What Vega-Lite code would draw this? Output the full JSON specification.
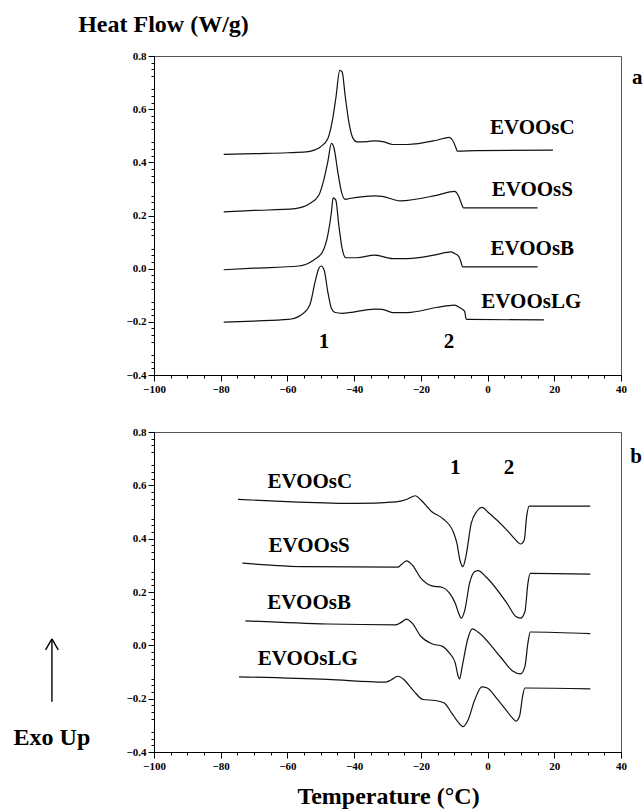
{
  "$schema": "https://vega.github.io/schema/vega-lite/v6.json",
  "background": "white",
  "padding": {"left": 13, "top": 11, "right": 0, "bottom": 0},
  "spacing": 57,
  "bounds": "flush",
  "config": {
    "view": {"stroke": "#555", "strokeWidth": 1},
    "font": "'Liberation Serif', 'Times New Roman', 'DejaVu Serif', serif",
    "axis": {
      "labelFont": "'Liberation Serif', 'Times New Roman', 'DejaVu Serif', serif", "labelFontSize": 11, "labelFontWeight": "bold", "labelColor": "#000",
      "domainColor": "#000", "tickColor": "#000", "tickSize": 6, "grid": false,
      "labelFlush": false, "labelOverlap": false, "labelPadding": 2,
      "titleFont": "'Liberation Serif', 'Times New Roman', 'DejaVu Serif', serif", "titleFontSize": 24, "titleFontWeight": "bold", "titleColor": "#000"
    }
  },
  "datasets": {
    "a": [
      {"s": "C", "t": -79.1, "h": 0.430}, {"s": "C", "t": -70, "h": 0.433}, {"s": "C", "t": -60, "h": 0.436},
      {"s": "C", "t": -54.4, "h": 0.439}, {"s": "C", "t": -52, "h": 0.446}, {"s": "C", "t": -50.1, "h": 0.458},
      {"s": "C", "t": -47.9, "h": 0.489}, {"s": "C", "t": -46.6, "h": 0.552}, {"s": "C", "t": -45.5, "h": 0.640},
      {"s": "C", "t": -44.3, "h": 0.746}, {"s": "C", "t": -43.6, "h": 0.740}, {"s": "C", "t": -42.7, "h": 0.652},
      {"s": "C", "t": -41.6, "h": 0.552}, {"s": "C", "t": -40.3, "h": 0.489}, {"s": "C", "t": -39.2, "h": 0.477},
      {"s": "C", "t": -36, "h": 0.478}, {"s": "C", "t": -33.8, "h": 0.481}, {"s": "C", "t": -31, "h": 0.477},
      {"s": "C", "t": -28.4, "h": 0.467}, {"s": "C", "t": -24.0, "h": 0.467}, {"s": "C", "t": -15.3, "h": 0.483},
      {"s": "C", "t": -11.5, "h": 0.494}, {"s": "C", "t": -10.5, "h": 0.483}, {"s": "C", "t": -9.4, "h": 0.452},
      {"s": "C", "t": -9.1, "h": 0.442}, {"s": "C", "t": -3.4, "h": 0.444}, {"s": "C", "t": 19.6, "h": 0.446},

      {"s": "S", "t": -79.1, "h": 0.214}, {"s": "S", "t": -70, "h": 0.219}, {"s": "S", "t": -57.7, "h": 0.226},
      {"s": "S", "t": -53.3, "h": 0.245}, {"s": "S", "t": -50.6, "h": 0.276}, {"s": "S", "t": -49.0, "h": 0.339},
      {"s": "S", "t": -47.9, "h": 0.402}, {"s": "S", "t": -46.8, "h": 0.471}, {"s": "S", "t": -46.0, "h": 0.452},
      {"s": "S", "t": -44.9, "h": 0.364}, {"s": "S", "t": -43.8, "h": 0.289}, {"s": "S", "t": -42.7, "h": 0.261},
      {"s": "S", "t": -41.4, "h": 0.264}, {"s": "S", "t": -33.8, "h": 0.274}, {"s": "S", "t": -31.6, "h": 0.272},
      {"s": "S", "t": -26.2, "h": 0.255}, {"s": "S", "t": -15.3, "h": 0.276}, {"s": "S", "t": -9.9, "h": 0.291},
      {"s": "S", "t": -8.8, "h": 0.276}, {"s": "S", "t": -8.0, "h": 0.251}, {"s": "S", "t": -7.2, "h": 0.229},
      {"s": "S", "t": 15.0, "h": 0.229},

      {"s": "B", "t": -79.1, "h": -0.004}, {"s": "B", "t": -70, "h": 0.002}, {"s": "B", "t": -56.6, "h": 0.010},
      {"s": "B", "t": -52.2, "h": 0.032}, {"s": "B", "t": -49.5, "h": 0.063}, {"s": "B", "t": -47.9, "h": 0.126},
      {"s": "B", "t": -46.8, "h": 0.214}, {"s": "B", "t": -46.3, "h": 0.266}, {"s": "B", "t": -45.5, "h": 0.258},
      {"s": "B", "t": -44.6, "h": 0.164}, {"s": "B", "t": -43.6, "h": 0.076}, {"s": "B", "t": -42.5, "h": 0.041},
      {"s": "B", "t": -39.2, "h": 0.041}, {"s": "B", "t": -33.8, "h": 0.051}, {"s": "B", "t": -28.4, "h": 0.038},
      {"s": "B", "t": -24.0, "h": 0.038}, {"s": "B", "t": -15.3, "h": 0.053}, {"s": "B", "t": -11.0, "h": 0.063},
      {"s": "B", "t": -9.9, "h": 0.057}, {"s": "B", "t": -8.6, "h": 0.045}, {"s": "B", "t": -8.0, "h": 0.026},
      {"s": "B", "t": -7.5, "h": 0.007}, {"s": "B", "t": 15.0, "h": 0.007},

      {"s": "LG", "t": -79.1, "h": -0.201}, {"s": "LG", "t": -70, "h": -0.197}, {"s": "LG", "t": -59.8, "h": -0.191},
      {"s": "LG", "t": -56.0, "h": -0.175}, {"s": "LG", "t": -53.3, "h": -0.137}, {"s": "LG", "t": -51.7, "h": -0.049},
      {"s": "LG", "t": -50.6, "h": 0.001}, {"s": "LG", "t": -49.9, "h": 0.010}, {"s": "LG", "t": -49.0, "h": -0.005},
      {"s": "LG", "t": -47.9, "h": -0.087}, {"s": "LG", "t": -46.8, "h": -0.150}, {"s": "LG", "t": -45.7, "h": -0.165},
      {"s": "LG", "t": -43.6, "h": -0.168}, {"s": "LG", "t": -33.8, "h": -0.152}, {"s": "LG", "t": -31.6, "h": -0.153},
      {"s": "LG", "t": -28.4, "h": -0.165}, {"s": "LG", "t": -24.0, "h": -0.165}, {"s": "LG", "t": -15.3, "h": -0.146},
      {"s": "LG", "t": -9.9, "h": -0.137}, {"s": "LG", "t": -8.3, "h": -0.147}, {"s": "LG", "t": -6.9, "h": -0.160},
      {"s": "LG", "t": -6.4, "h": -0.190}, {"s": "LG", "t": -5.6, "h": -0.191}, {"s": "LG", "t": 16.9, "h": -0.193}
    ],
    "b": [
      {"s": "C", "t": -74.8, "h": 0.547}, {"s": "C", "t": -58.6, "h": 0.538}, {"s": "C", "t": -39.3, "h": 0.532},
      {"s": "C", "t": -27.5, "h": 0.538}, {"s": "C", "t": -24.3, "h": 0.547}, {"s": "C", "t": -21.6, "h": 0.561},
      {"s": "C", "t": -20.0, "h": 0.545}, {"s": "C", "t": -16.7, "h": 0.501}, {"s": "C", "t": -13.5, "h": 0.476},
      {"s": "C", "t": -10.3, "h": 0.426}, {"s": "C", "t": -9.2, "h": 0.383}, {"s": "C", "t": -8.3, "h": 0.320},
      {"s": "C", "t": -7.4, "h": 0.295}, {"s": "C", "t": -6.5, "h": 0.333}, {"s": "C", "t": -4.9, "h": 0.457},
      {"s": "C", "t": -3.3, "h": 0.501}, {"s": "C", "t": -1.7, "h": 0.517}, {"s": "C", "t": 0.5, "h": 0.495},
      {"s": "C", "t": 5.8, "h": 0.432}, {"s": "C", "t": 8.0, "h": 0.401}, {"s": "C", "t": 9.9, "h": 0.380},
      {"s": "C", "t": 11.0, "h": 0.395}, {"s": "C", "t": 11.7, "h": 0.482}, {"s": "C", "t": 12.5, "h": 0.522},
      {"s": "C", "t": 30.8, "h": 0.522},

      {"s": "S", "t": -73.5, "h": 0.308}, {"s": "S", "t": -54.3, "h": 0.295}, {"s": "S", "t": -26.9, "h": 0.293},
      {"s": "S", "t": -25.9, "h": 0.302}, {"s": "S", "t": -24.3, "h": 0.317}, {"s": "S", "t": -22.6, "h": 0.302},
      {"s": "S", "t": -20.0, "h": 0.252}, {"s": "S", "t": -16.7, "h": 0.223}, {"s": "S", "t": -13.5, "h": 0.217},
      {"s": "S", "t": -11.4, "h": 0.196}, {"s": "S", "t": -9.7, "h": 0.158}, {"s": "S", "t": -8.7, "h": 0.121},
      {"s": "S", "t": -7.9, "h": 0.102}, {"s": "S", "t": -6.8, "h": 0.133}, {"s": "S", "t": -5.4, "h": 0.233},
      {"s": "S", "t": -3.8, "h": 0.277}, {"s": "S", "t": -2.8, "h": 0.280}, {"s": "S", "t": -0.6, "h": 0.258},
      {"s": "S", "t": 5.8, "h": 0.158}, {"s": "S", "t": 8.5, "h": 0.108}, {"s": "S", "t": 9.9, "h": 0.102},
      {"s": "S", "t": 11.2, "h": 0.127}, {"s": "S", "t": 12.1, "h": 0.233}, {"s": "S", "t": 12.8, "h": 0.270},
      {"s": "S", "t": 30.8, "h": 0.267},

      {"s": "B", "t": -72.6, "h": 0.092}, {"s": "B", "t": -47.9, "h": 0.080}, {"s": "B", "t": -27.5, "h": 0.077},
      {"s": "B", "t": -25.9, "h": 0.086}, {"s": "B", "t": -24.3, "h": 0.098}, {"s": "B", "t": -22.6, "h": 0.083},
      {"s": "B", "t": -20.0, "h": 0.034}, {"s": "B", "t": -16.7, "h": 0.006}, {"s": "B", "t": -13.5, "h": -0.004},
      {"s": "B", "t": -11.4, "h": -0.029}, {"s": "B", "t": -9.7, "h": -0.066}, {"s": "B", "t": -8.8, "h": -0.116},
      {"s": "B", "t": -8.4, "h": -0.126}, {"s": "B", "t": -7.6, "h": -0.079}, {"s": "B", "t": -6.0, "h": 0.021},
      {"s": "B", "t": -4.6, "h": 0.062}, {"s": "B", "t": -2.8, "h": 0.049}, {"s": "B", "t": 3.7, "h": -0.041},
      {"s": "B", "t": 7.4, "h": -0.095}, {"s": "B", "t": 9.9, "h": -0.107}, {"s": "B", "t": 11.2, "h": -0.079},
      {"s": "B", "t": 12.1, "h": 0.009}, {"s": "B", "t": 12.8, "h": 0.050}, {"s": "B", "t": 30.8, "h": 0.044},

      {"s": "LG", "t": -74.5, "h": -0.118}, {"s": "LG", "t": -47.9, "h": -0.128}, {"s": "LG", "t": -30.7, "h": -0.138},
      {"s": "LG", "t": -29.1, "h": -0.131}, {"s": "LG", "t": -26.9, "h": -0.116}, {"s": "LG", "t": -25.3, "h": -0.126},
      {"s": "LG", "t": -22.1, "h": -0.172}, {"s": "LG", "t": -19.4, "h": -0.203}, {"s": "LG", "t": -15.7, "h": -0.207},
      {"s": "LG", "t": -13.0, "h": -0.216}, {"s": "LG", "t": -10.8, "h": -0.253}, {"s": "LG", "t": -8.7, "h": -0.290},
      {"s": "LG", "t": -7.3, "h": -0.305}, {"s": "LG", "t": -6.0, "h": -0.284}, {"s": "LG", "t": -3.8, "h": -0.203},
      {"s": "LG", "t": -1.7, "h": -0.156}, {"s": "LG", "t": -0.1, "h": -0.160}, {"s": "LG", "t": 2.6, "h": -0.197},
      {"s": "LG", "t": 5.8, "h": -0.247}, {"s": "LG", "t": 7.4, "h": -0.272}, {"s": "LG", "t": 8.5, "h": -0.284},
      {"s": "LG", "t": 9.6, "h": -0.265}, {"s": "LG", "t": 10.5, "h": -0.191}, {"s": "LG", "t": 11.2, "h": -0.160},
      {"s": "LG", "t": 30.8, "h": -0.163}
    ],
    "la": [
      {"x": 13.4, "y": 0.529, "label": "EVOOsC"},
      {"x": 13.4, "y": 0.295, "label": "EVOOsS"},
      {"x": 13.4, "y": 0.073, "label": "EVOOsB"},
      {"x": 13.1, "y": -0.125, "label": "EVOOsLG"},
      {"x": -49, "y": -0.277, "label": "1"},
      {"x": -11.6, "y": -0.277, "label": "2"},
      {"x": 44.9, "y": 0.717, "label": "a"}
    ],
    "lb": [
      {"x": -53.3, "y": 0.613, "label": "EVOOsC"},
      {"x": -53.5, "y": 0.374, "label": "EVOOsS"},
      {"x": -53.5, "y": 0.158, "label": "EVOOsB"},
      {"x": -53.9, "y": -0.051, "label": "EVOOsLG"},
      {"x": -9.7, "y": 0.665, "label": "1"},
      {"x": 6.4, "y": 0.665, "label": "2"},
      {"x": 44.5, "y": 0.707, "label": "b"}
    ],
    "exo": [
      {"x": -130.6, "y": -0.374, "label": "Exo Up"}
    ],
    "arrow": [
      {"x1": -130.6, "y1": 0.024, "x2": -130.6, "y2": -0.212},
      {"x1": -130.6, "y1": 0.024, "x2": -132.5, "y2": -0.017},
      {"x1": -130.6, "y1": 0.024, "x2": -128.7, "y2": -0.017}
    ]
  },
  "vconcat": [
    {
      "width": 467,
      "height": 319,
      "layer": [
        {
          "data": {"name": "a"},
          "mark": {"type": "line", "color": "#111", "strokeWidth": 1.2, "interpolate": "monotone"},
          "encoding": {
            "x": {"field": "t", "type": "quantitative",
              "scale": {"domain": [-100, 40], "nice": false, "zero": false},
              "axis": {"orient": "bottom", "values": [-100, -80, -60, -40, -20, 0, 20, 40], "title": null}},
            "y": {"field": "h", "type": "quantitative",
              "scale": {"domain": [-0.4, 0.8], "nice": false, "zero": false},
              "axis": {"orient": "left", "values": [-0.4, -0.2, 0, 0.2, 0.4, 0.6, 0.8], "format": ".1f",
                "title": "Heat Flow (W/g)", "titleAngle": 0, "titleAlign": "center", "titleBaseline": "alphabetic",
                "titleX": 9, "titleY": -25}},
            "detail": {"field": "s"}
          }
        },
        {
          "data": {"name": "la"},
          "mark": {"type": "text", "font": "'Liberation Serif', 'Times New Roman', 'DejaVu Serif', serif", "fontSize": 21, "fontWeight": "bold", "color": "#000", "align": "center", "baseline": "middle"},
          "encoding": {
            "x": {"field": "x", "type": "quantitative",
              "scale": {"domain": [-100, 40], "nice": false, "zero": false},
              "axis": {"orient": "bottom", "labels": false, "domain": false, "tickSize": 3, "title": null,
                "values": [-95, -90, -85, -75, -70, -65, -55, -50, -45, -35, -30, -25, -15, -10, -5, 5, 10, 15, 25, 30, 35]}},
            "y": {"field": "y", "type": "quantitative",
              "scale": {"domain": [-0.4, 0.8], "nice": false, "zero": false},
              "axis": {"orient": "left", "labels": false, "domain": false, "tickSize": 3, "title": null,
                "values": [-0.375, -0.35, -0.325, -0.275, -0.25, -0.225, -0.175, -0.15, -0.125, -0.075, -0.05, -0.025, 0.025, 0.05, 0.075, 0.125, 0.15, 0.175, 0.225, 0.25, 0.275, 0.325, 0.35, 0.375, 0.425, 0.45, 0.475, 0.525, 0.55, 0.575, 0.625, 0.65, 0.675, 0.725, 0.75, 0.775]}},
            "text": {"field": "label"}
          }
        }
      ],
      "resolve": {"axis": {"x": "independent", "y": "independent"}}
    },
    {
      "width": 467,
      "height": 320,
      "layer": [
        {
          "data": {"name": "b"},
          "mark": {"type": "line", "color": "#111", "strokeWidth": 1.2, "interpolate": "monotone"},
          "encoding": {
            "x": {"field": "t", "type": "quantitative",
              "scale": {"domain": [-100, 40], "nice": false, "zero": false},
              "axis": {"orient": "bottom", "values": [-100, -80, -60, -40, -20, 0, 20, 40],
                "title": "Temperature (°C)", "titleAlign": "center", "titleBaseline": "alphabetic", "titleX": 234, "titleY": 51}},
            "y": {"field": "h", "type": "quantitative",
              "scale": {"domain": [-0.4, 0.8], "nice": false, "zero": false},
              "axis": {"orient": "left", "values": [-0.4, -0.2, 0, 0.2, 0.4, 0.6, 0.8], "format": ".1f", "title": null}},
            "detail": {"field": "s"}
          }
        },
        {
          "data": {"name": "lb"},
          "mark": {"type": "text", "font": "'Liberation Serif', 'Times New Roman', 'DejaVu Serif', serif", "fontSize": 21, "fontWeight": "bold", "color": "#000", "align": "center", "baseline": "middle"},
          "encoding": {
            "x": {"field": "x", "type": "quantitative",
              "scale": {"domain": [-100, 40], "nice": false, "zero": false},
              "axis": {"orient": "bottom", "labels": false, "domain": false, "tickSize": 3, "title": null,
                "values": [-95, -90, -85, -75, -70, -65, -55, -50, -45, -35, -30, -25, -15, -10, -5, 5, 10, 15, 25, 30, 35]}},
            "y": {"field": "y", "type": "quantitative",
              "scale": {"domain": [-0.4, 0.8], "nice": false, "zero": false},
              "axis": {"orient": "left", "labels": false, "domain": false, "tickSize": 3, "title": null,
                "values": [-0.375, -0.35, -0.325, -0.275, -0.25, -0.225, -0.175, -0.15, -0.125, -0.075, -0.05, -0.025, 0.025, 0.05, 0.075, 0.125, 0.15, 0.175, 0.225, 0.25, 0.275, 0.325, 0.35, 0.375, 0.425, 0.45, 0.475, 0.525, 0.55, 0.575, 0.625, 0.65, 0.675, 0.725, 0.75, 0.775]}},
            "text": {"field": "label"}
          }
        },
        {
          "data": {"name": "exo"},
          "mark": {"type": "text", "font": "'Liberation Serif', 'Times New Roman', 'DejaVu Serif', serif", "fontSize": 24, "fontWeight": "bold", "color": "#000", "align": "center", "baseline": "alphabetic"},
          "encoding": {
            "x": {"field": "x", "type": "quantitative", "scale": {"domain": [-100, 40], "nice": false, "zero": false}, "axis": null},
            "y": {"field": "y", "type": "quantitative", "scale": {"domain": [-0.4, 0.8], "nice": false, "zero": false}, "axis": null},
            "text": {"field": "label"}
          }
        },
        {
          "data": {"name": "arrow"},
          "mark": {"type": "rule", "color": "#000", "strokeWidth": 1.4},
          "encoding": {
            "x": {"field": "x1", "type": "quantitative", "scale": {"domain": [-100, 40], "nice": false, "zero": false}, "axis": null},
            "x2": {"field": "x2"},
            "y": {"field": "y1", "type": "quantitative", "scale": {"domain": [-0.4, 0.8], "nice": false, "zero": false}, "axis": null},
            "y2": {"field": "y2"}
          }
        }
      ],
      "resolve": {"axis": {"x": "independent", "y": "independent"}}
    }
  ]
}
